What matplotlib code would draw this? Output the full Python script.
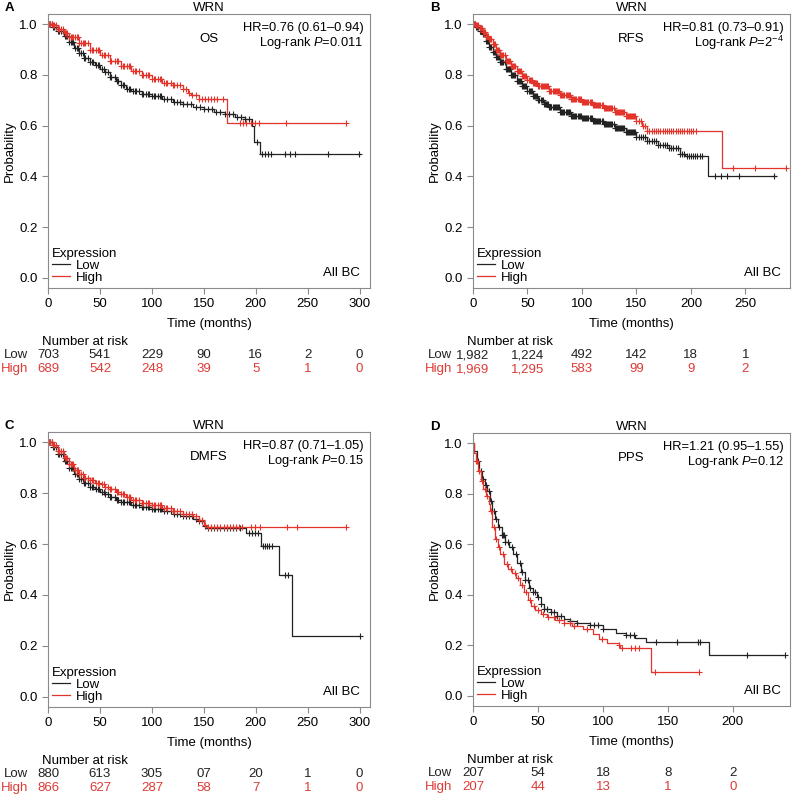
import numpy as np
import matplotlib
matplotlib.use('Agg')
from matplotlib import pyplot as plt
from matplotlib.lines import Line2D

plt.rcParams['font.family'] = ['Liberation Sans', 'DejaVu Sans']
plt.rcParams['mathtext.fontset'] = 'custom'
plt.rcParams['mathtext.rm'] = 'Liberation Sans'
plt.rcParams['mathtext.it'] = 'Liberation Sans:italic'
plt.rcParams['font.size'] = 9.5

BLACK = '#222222'
RED = '#e3342c'
TXT_RED = '#dd3b36'
FS = 9.5
FS_SMALL = 9.3

# ---- Panel A: OS ----
a_low_t = [0, 5, 10, 15, 20, 25, 30, 35, 40, 45, 50, 55, 60, 65, 70, 75, 80, 90, 100, 110, 120, 130, 140, 150, 160, 170, 180, 190, 196, 198, 204, 300]
a_low_s = [1.0, 0.99, 0.975, 0.955, 0.93, 0.905, 0.885, 0.865, 0.85, 0.84, 0.825, 0.81, 0.79, 0.775, 0.76, 0.745, 0.735, 0.725, 0.715, 0.705, 0.695, 0.685, 0.675, 0.665, 0.655, 0.645, 0.635, 0.625, 0.60, 0.537, 0.49, 0.49]
a_low_c = [1, 2, 4, 5, 6, 8, 10, 11, 12, 14, 16, 17, 18, 20, 22, 23, 24, 26, 28, 29, 30, 32, 34, 35, 36, 38, 40, 42, 43, 46, 48, 49, 52, 54, 55, 58, 60, 61, 64, 66, 67, 70, 72, 73, 76, 78, 79, 82, 84, 85, 88, 90, 91, 94, 96, 97, 100, 102, 103, 106, 108, 109, 112, 115, 118, 121, 124, 127, 130, 134, 138, 142, 146, 150, 154, 158, 162, 166, 170, 174, 178, 182, 186, 190, 193, 201, 206, 209, 212, 215, 228, 233, 238, 270, 299]
a_high_t = [0, 5, 10, 15, 20, 30, 40, 50, 60, 70, 80, 90, 100, 110, 120, 130, 135, 138, 145, 172, 287]
a_high_s = [1.0, 0.995, 0.98, 0.965, 0.95, 0.925, 0.90, 0.88, 0.855, 0.835, 0.815, 0.80, 0.785, 0.77, 0.76, 0.745, 0.73, 0.72, 0.705, 0.612, 0.612]
a_high_c = [1, 2, 4, 5, 6, 8, 10, 11, 12, 14, 16, 17, 18, 20, 22, 23, 24, 26, 28, 29, 30, 32, 34, 35, 36, 38, 40, 42, 43, 46, 48, 49, 52, 54, 55, 58, 60, 61, 64, 66, 67, 70, 72, 73, 76, 78, 79, 82, 84, 85, 88, 90, 91, 94, 96, 97, 100, 102, 103, 106, 108, 109, 112, 114, 115, 118, 120, 121, 124, 127, 130, 133, 136, 139, 142, 145, 148, 151, 154, 157, 160, 163, 168, 185, 188, 191, 195, 199, 203, 229, 287]
a_ticks = [0, 50, 100, 150, 200, 250, 300]
a_risk_low = ['703', '541', '229', '90', '16', '2', '0']
a_risk_high = ['689', '542', '248', '39', '5', '1', '0']

# ---- Panel B: RFS ----
b_low_t = [0, 3, 6, 9, 12, 15, 18, 21, 25, 30, 35, 40, 45, 50, 55, 60, 65, 70, 80, 90, 100, 110, 120, 130, 140, 150, 160, 170, 180, 190, 195, 216, 278]
b_low_s = [1.0, 0.99, 0.975, 0.96, 0.935, 0.91, 0.89, 0.87, 0.85, 0.825, 0.80, 0.775, 0.755, 0.735, 0.715, 0.70, 0.685, 0.672, 0.655, 0.64, 0.63, 0.62, 0.605, 0.59, 0.575, 0.555, 0.54, 0.525, 0.51, 0.49, 0.48, 0.40, 0.40]
b_low_c = [1, 2, 3, 4, 5, 6, 7, 8, 9, 10, 11, 12, 13, 14, 15, 16, 17, 18, 19, 20, 21, 22, 23, 24, 25, 26, 27, 28, 29, 30, 31, 32, 33, 34, 35, 36, 37, 38, 39, 40, 41, 42, 43, 44, 45, 46, 47, 48, 49, 50, 51, 52, 53, 54, 55, 56, 57, 58, 59, 60, 61, 62, 63, 64, 65, 66, 67, 68, 69, 70, 71, 72, 73, 74, 75, 76, 77, 78, 79, 80, 81, 82, 83, 84, 85, 86, 87, 88, 89, 90, 91, 92, 93, 94, 95, 96, 97, 98, 99, 100, 101, 102, 103, 104, 105, 106, 107, 108, 109, 110, 111, 112, 113, 114, 115, 116, 117, 118, 119, 120, 121, 122, 123, 124, 125, 126, 127, 128, 129, 130, 131, 132, 133, 134, 135, 136, 137, 138, 139, 140, 141, 142, 143, 144, 145, 146, 147, 148, 149, 150, 152, 154, 156, 158, 160, 162, 164, 166, 168, 170, 172, 174, 176, 178, 180, 182, 184, 186, 188, 190, 192, 194, 196, 198, 200, 202, 204, 206, 208, 210, 222, 228, 233, 244, 276]
b_high_t = [0, 3, 6, 9, 12, 15, 18, 21, 25, 30, 35, 40, 45, 50, 55, 60, 70, 80, 90, 100, 110, 120, 130, 140, 150, 155, 160, 229, 287]
b_high_s = [1.0, 0.995, 0.985, 0.97, 0.955, 0.94, 0.92, 0.90, 0.88, 0.855, 0.835, 0.815, 0.795, 0.78, 0.768, 0.755, 0.735, 0.72, 0.705, 0.695, 0.68, 0.668, 0.655, 0.64, 0.62, 0.60, 0.58, 0.434, 0.434]
b_high_c = [1, 2, 3, 4, 5, 6, 7, 8, 9, 10, 11, 12, 13, 14, 15, 16, 17, 18, 19, 20, 21, 22, 23, 24, 25, 26, 27, 28, 29, 30, 31, 32, 33, 34, 35, 36, 37, 38, 39, 40, 41, 42, 43, 44, 45, 46, 47, 48, 49, 50, 51, 52, 53, 54, 55, 56, 57, 58, 59, 60, 61, 62, 63, 64, 65, 66, 67, 68, 69, 70, 71, 72, 73, 74, 75, 76, 77, 78, 79, 80, 81, 82, 83, 84, 85, 86, 87, 88, 89, 90, 91, 92, 93, 94, 95, 96, 97, 98, 99, 100, 101, 102, 103, 104, 105, 106, 107, 108, 109, 110, 111, 112, 113, 114, 115, 116, 117, 118, 119, 120, 121, 122, 123, 124, 125, 126, 127, 128, 129, 130, 131, 132, 133, 134, 135, 136, 137, 138, 139, 140, 141, 142, 143, 144, 145, 146, 147, 148, 149, 150, 152, 154, 156, 158, 160, 162, 164, 166, 168, 170, 172, 174, 176, 178, 180, 182, 184, 186, 188, 190, 192, 194, 196, 198, 200, 202, 205, 239, 259, 287]
b_ticks = [0, 50, 100, 150, 200, 250]
b_risk_low = ['1,982', '1,224', '492', '142', '18', '1']
b_risk_high = ['1,969', '1,295', '583', '99', '9', '2']

# ---- Panel C: DMFS ----
c_low_t = [0, 5, 10, 15, 20, 25, 30, 35, 40, 45, 50, 55, 60, 65, 70, 80, 90, 100, 110, 120, 130, 140, 145, 150, 152, 191, 205, 222, 235, 300]
c_low_s = [1.0, 0.98, 0.955, 0.925, 0.90, 0.875, 0.855, 0.84, 0.825, 0.815, 0.805, 0.795, 0.785, 0.775, 0.765, 0.752, 0.745, 0.738, 0.73, 0.72, 0.712, 0.70, 0.69, 0.672, 0.665, 0.643, 0.594, 0.479, 0.24, 0.24]
c_low_c = [1, 2, 4, 5, 6, 8, 10, 11, 12, 14, 16, 17, 18, 20, 22, 23, 24, 26, 28, 29, 30, 32, 34, 35, 36, 38, 40, 42, 43, 46, 48, 49, 52, 54, 55, 58, 60, 61, 64, 66, 67, 70, 72, 73, 76, 78, 79, 82, 84, 85, 88, 90, 91, 94, 96, 97, 100, 102, 103, 106, 108, 109, 112, 115, 118, 121, 124, 127, 130, 133, 136, 139, 142, 145, 148, 151, 154, 157, 160, 163, 166, 169, 172, 175, 178, 181, 185, 193, 196, 199, 202, 207, 209, 211, 213, 216, 228, 231, 300]
c_high_t = [0, 5, 10, 15, 20, 25, 30, 35, 40, 45, 50, 55, 60, 65, 70, 75, 80, 90, 100, 110, 120, 130, 140, 145, 150, 153, 287]
c_high_s = [1.0, 0.99, 0.965, 0.94, 0.915, 0.89, 0.875, 0.86, 0.85, 0.84, 0.835, 0.825, 0.815, 0.805, 0.795, 0.785, 0.775, 0.762, 0.752, 0.742, 0.73, 0.72, 0.71, 0.695, 0.675, 0.668, 0.668]
c_high_c = [1, 2, 4, 5, 6, 8, 10, 11, 12, 14, 16, 17, 18, 20, 22, 23, 24, 26, 28, 29, 30, 32, 34, 35, 36, 38, 40, 42, 43, 46, 48, 49, 52, 54, 55, 58, 60, 61, 64, 66, 67, 70, 72, 73, 76, 78, 79, 82, 84, 85, 88, 90, 91, 94, 96, 97, 100, 102, 103, 106, 108, 109, 112, 114, 115, 118, 120, 121, 124, 127, 130, 133, 136, 139, 142, 145, 148, 151, 154, 157, 160, 163, 166, 169, 172, 175, 178, 181, 184, 187, 195, 199, 204, 230, 240, 287]
c_ticks = [0, 50, 100, 150, 200, 250, 300]
c_risk_low = ['880', '613', '305', '07', '20', '1', '0']
c_risk_high = ['866', '627', '287', '58', '7', '1', '0']

# ---- Panel D: PPS ----
d_low_t = [0, 1, 3, 5, 7, 9, 11, 13, 15, 17, 19, 22, 25, 28, 31, 34, 37, 40, 43, 46, 49, 52, 55, 60, 65, 70, 75, 80, 90, 100, 110, 118, 125, 133, 182, 240]
d_low_s = [1.0, 0.97, 0.93, 0.89, 0.86, 0.835, 0.81, 0.77, 0.73, 0.70, 0.67, 0.635, 0.61, 0.59, 0.56, 0.525, 0.49, 0.46, 0.425, 0.41, 0.39, 0.365, 0.345, 0.33, 0.315, 0.305, 0.298, 0.29, 0.28, 0.265, 0.25, 0.24, 0.23, 0.215, 0.162, 0.162]
d_low_c = [4, 6, 8, 10, 12, 14, 16, 18, 20, 22, 23, 24, 25, 27, 30, 33, 36, 38, 40, 42, 44, 46, 48, 50, 52, 55, 57, 60, 62, 65, 68, 75, 80, 90, 93, 96, 100, 118, 121, 124, 141, 157, 173, 175, 211, 240]
d_high_t = [0, 1, 2, 4, 6, 8, 10, 12, 13, 15, 17, 19, 21, 24, 27, 30, 33, 36, 39, 42, 45, 48, 52, 57, 63, 70, 76, 85, 92, 97, 103, 112, 113, 137, 174]
d_high_s = [1.0, 0.96, 0.93, 0.89, 0.85, 0.82, 0.79, 0.76, 0.73, 0.67, 0.62, 0.59, 0.56, 0.52, 0.50, 0.485, 0.465, 0.44, 0.41, 0.38, 0.355, 0.34, 0.325, 0.312, 0.30, 0.29, 0.275, 0.265, 0.245, 0.225, 0.21, 0.20, 0.19, 0.095, 0.095]
d_high_c = [2, 3, 5, 7, 9, 11, 14, 16, 18, 20, 23, 26, 29, 32, 35, 38, 41, 44, 47, 50, 54, 58, 62, 66, 70, 75, 78, 88, 99, 112, 115, 122, 125, 128, 140, 174]
d_ticks = [0, 50, 100, 150, 200]
d_risk_low = ['207', '54', '18', '8', '2']
d_risk_high = ['207', '44', '13', '1', '0']


def km(ax, t, s, cens, color):
    t = np.asarray(t)
    s = np.asarray(s)
    ax.step(t, s, where='post', color=color, lw=0.9)
    idx = np.searchsorted(t, cens, side='right') - 1
    ax.plot(cens, s[idx], '+', color=color, ms=4.5, mew=0.8, ls='none')


def panel(rect, letter, endpoint, hr, pval, low, high, ticks, xmax, risk_low, risk_high, lab_x, nar_x):
    ax = fig.add_axes(rect)
    km(ax, *low, BLACK)
    km(ax, *high, RED)
    ax.set_xlim(0, xmax)
    ax.set_ylim(-0.04, 1.04)
    ax.set_xticks(ticks)
    ax.set_yticks([0, 0.2, 0.4, 0.6, 0.8, 1.0])
    ax.set_yticklabels(['0.0', '0.2', '0.4', '0.6', '0.8', '1.0'])
    for sp in ax.spines.values():
        sp.set_color('#8a8a8a')
        sp.set_linewidth(0.8)
    ax.tick_params(direction='out', length=4, width=0.8, color='#8a8a8a', labelsize=FS, pad=3.5)
    ax.set_ylabel('Probability', fontsize=FS, labelpad=2)
    ax.set_xlabel('Time (months)', fontsize=FS, labelpad=5.5)
    ax.set_title('WRN', fontsize=FS, pad=1)
    ax.text(0.5, 0.91, endpoint, transform=ax.transAxes, ha='center', va='center', fontsize=FS)
    ax.text(0.98, 0.95, hr, transform=ax.transAxes, ha='right', va='center', fontsize=FS_SMALL)
    ax.text(0.98, 0.895, pval, transform=ax.transAxes, ha='right', va='center', fontsize=FS_SMALL)
    ax.text(0.97, 0.055, 'All BC', transform=ax.transAxes, ha='right', va='center', fontsize=FS)
    handles = [Line2D([], [], color=BLACK, lw=0.9), Line2D([], [], color=RED, lw=0.9)]
    ax.legend(handles, ['Low', 'High'], title='Expression', loc='lower left', frameon=False,
              fontsize=FS, title_fontsize=FS, alignment='left', handlelength=1.4,
              handletextpad=0.4, borderaxespad=0.1, labelspacing=0.0, borderpad=0.2)
    tr = ax.get_xaxis_transform()
    ax.text(nar_x, -0.197, 'Number at risk', transform=tr, ha='left', va='center', fontsize=FS)
    ax.text(lab_x, -0.245, 'Low', transform=tr, ha='right', va='center', fontsize=FS, color=BLACK)
    ax.text(lab_x, -0.296, 'High', transform=tr, ha='right', va='center', fontsize=FS, color=TXT_RED)
    for x, nl, nh in zip(ticks, risk_low, risk_high):
        ax.text(x, -0.245, nl, transform=tr, ha='center', va='center', fontsize=FS, color=BLACK)
        ax.text(x, -0.296, nh, transform=tr, ha='center', va='center', fontsize=FS, color=TXT_RED)
    fig.text(rect[0] - 0.054 if rect[0] > 0.5 else 0.006, rect[1] + rect[3] + 0.008, letter,
             fontsize=FS, fontweight='bold', va='center')
    return ax


fig = plt.figure(figsize=(7.98, 7.97), dpi=100)
fig.patch.set_facecolor('white')

panel([0.0602, 0.6386, 0.4035, 0.3438], 'A', 'OS', 'HR=0.76 (0.61–0.94)', r'Log-rank $P$=0.011',
      (a_low_t, a_low_s, a_low_c), (a_high_t, a_high_s, a_high_c), a_ticks, 310,
      a_risk_low, a_risk_high, -19.5, -6)
panel([0.5927, 0.6386, 0.3973, 0.3438], 'B', 'RFS', 'HR=0.81 (0.73–0.91)', r'Log-rank $P$=2$^{-4}$',
      (b_low_t, b_low_s, b_low_c), (b_high_t, b_high_s, b_high_c), b_ticks, 291,
      b_risk_low, b_risk_high, -19, -5.5)
panel([0.0602, 0.1129, 0.4035, 0.345], 'C', 'DMFS', 'HR=0.87 (0.71–1.05)', r'Log-rank $P$=0.15',
      (c_low_t, c_low_s, c_low_c), (c_high_t, c_high_s, c_high_c), c_ticks, 310,
      c_risk_low, c_risk_high, -19.5, -6)
panel([0.5927, 0.1142, 0.3973, 0.3425], 'D', 'PPS', 'HR=1.21 (0.95–1.55)', r'Log-rank $P$=0.12',
      (d_low_t, d_low_s, d_low_c), (d_high_t, d_high_s, d_high_c), d_ticks, 244,
      d_risk_low, d_risk_high, -16, -4.6)

fig.savefig('out.png', dpi=100)
